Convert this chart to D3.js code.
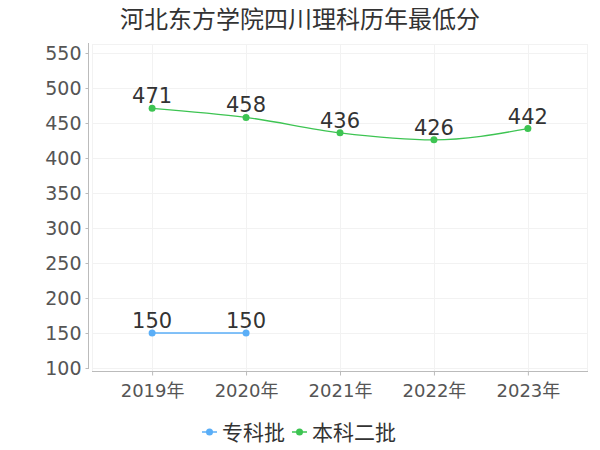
<!DOCTYPE html>
<html>
<head>
<meta charset="utf-8">
<script src="https://cdn.jsdelivr.net/npm/d3@7"></script>
<style>
  body { margin: 0; background: #fff; }
  svg { font-family: "DejaVu Sans", "Noto Sans CJK SC", sans-serif; }
</style>
</head>
<body>
<svg id="chart" width="600" height="450"></svg>
<script>
var years = ["2019年", "2020年", "2021年", "2022年", "2023年"];
var zhuanke = [150, 150, null, null, null];
var benke2 = [471, 458, 436, 426, 442];
var yTicks = [100, 150, 200, 250, 300, 350, 400, 450, 500, 550];
var seriesNames = ["专科批", "本科二批"];
var seriesColors = ["#5aaef7", "#3dc452"];

var svg = d3.select("#chart");
var fontStack = "DejaVu Sans, Noto Sans CJK SC, sans-serif";

var gridLeft = 92, gridRight = 588, gridTop = 44, gridBottom = 371;

var x = d3.scalePoint().domain(years).range([gridLeft, gridRight]).padding(0.64);
var y = d3.scaleLinear().domain([100, 550]).range([368, 53]);

// title
svg.append("text")
  .attr("x", 300)
  .attr("y", 28)
  .attr("text-anchor", "middle")
  .attr("font-family", "Noto Sans CJK SC")
  .attr("font-size", 24)
  .attr("fill", "#333")
  .text("河北东方学院四川理科历年最低分");

// grid
var grid = svg.append("g").attr("stroke", "#f2f2f2").attr("stroke-width", 1);
grid.selectAll(".h").data(yTicks).enter().append("line")
  .attr("x1", gridLeft).attr("x2", gridRight)
  .attr("y1", d => y(d) + 0.5).attr("y2", d => y(d) + 0.5);
grid.append("line").attr("x1", gridLeft).attr("x2", gridRight)
  .attr("y1", gridTop + 0.5).attr("y2", gridTop + 0.5);
grid.selectAll(".v").data(years).enter().append("line")
  .attr("x1", d => Math.round(x(d)) + 0.5).attr("x2", d => Math.round(x(d)) + 0.5)
  .attr("y1", gridTop).attr("y2", gridBottom);
grid.append("line").attr("x1", gridLeft + 0.5).attr("x2", gridLeft + 0.5)
  .attr("y1", gridTop).attr("y2", gridBottom);
grid.append("line").attr("x1", gridRight - 0.5).attr("x2", gridRight - 0.5)
  .attr("y1", gridTop).attr("y2", gridBottom);

// y axis
var yAxis = svg.append("g")
  .attr("transform", "translate(88.5,0)")
  .attr("font-family", fontStack)
  .call(d3.axisLeft(y).tickValues(yTicks).tickSize(3).tickPadding(4));
yAxis.attr("font-family", fontStack);
yAxis.select(".domain").attr("d", "M0,43V369").attr("stroke", "#bbb");
yAxis.selectAll(".tick line").attr("stroke", "#bbb");
yAxis.selectAll(".tick text").attr("font-size", 19).attr("fill", "#555");

// x axis
var xAxis = svg.append("g")
  .attr("transform", "translate(0," + (gridBottom + 0.5) + ")")
  .call(d3.axisBottom(x).tickSize(4).tickPadding(9));
xAxis.attr("font-family", fontStack);
xAxis.select(".domain").attr("d", "M" + gridLeft + ",0H" + gridRight).attr("stroke", "#bbb");
xAxis.selectAll(".tick line").attr("stroke", "#bbb");
xAxis.selectAll(".tick text").attr("font-size", 18).attr("fill", "#555");

// series
var line = d3.line()
  .defined(d => d.v != null)
  .x(d => x(d.k))
  .y(d => y(d.v))
  .curve(d3.curveMonotoneX);

[zhuanke, benke2].forEach(function(vals, i) {
  var pts = vals.map((v, j) => ({ k: years[j], v: v }));
  var g = svg.append("g");
  g.append("path")
    .datum(pts)
    .attr("fill", "none")
    .attr("stroke", seriesColors[i])
    .attr("stroke-width", 1.3)
    .attr("d", line);
  var valid = pts.filter(d => d.v != null);
  g.selectAll("circle").data(valid).enter().append("circle")
    .attr("cx", d => x(d.k))
    .attr("cy", d => y(d.v))
    .attr("r", 3.5)
    .attr("fill", seriesColors[i]);
  g.selectAll("text").data(valid).enter().append("text")
    .attr("x", d => x(d.k))
    .attr("y", d => y(d.v) - 5)
    .attr("text-anchor", "middle")
    .attr("font-size", 21)
    .attr("fill", "#333")
    .text(d => d.v);
});

// legend
var legend = svg.append("g").attr("transform", "translate(0,432)");
var lx = 202;
seriesNames.forEach(function(name, i) {
  var item = legend.append("g").attr("transform", "translate(" + lx + ",0)");
  item.append("line").attr("x1", 0).attr("x2", 15).attr("y1", 0).attr("y2", 0)
    .attr("stroke", seriesColors[i]).attr("stroke-width", 1.5);
  item.append("circle").attr("cx", 7.5).attr("cy", 0).attr("r", 3.5).attr("fill", seriesColors[i]);
  var t = item.append("text")
    .attr("x", 20)
    .attr("y", 0)
    .attr("dy", "0.36em")
    .attr("font-family", "Noto Sans CJK SC")
    .attr("font-size", 21)
    .attr("fill", "#333")
    .text(name);
  lx += 20 + t.node().getComputedTextLength() + 7;
});
</script>
</body>
</html>
